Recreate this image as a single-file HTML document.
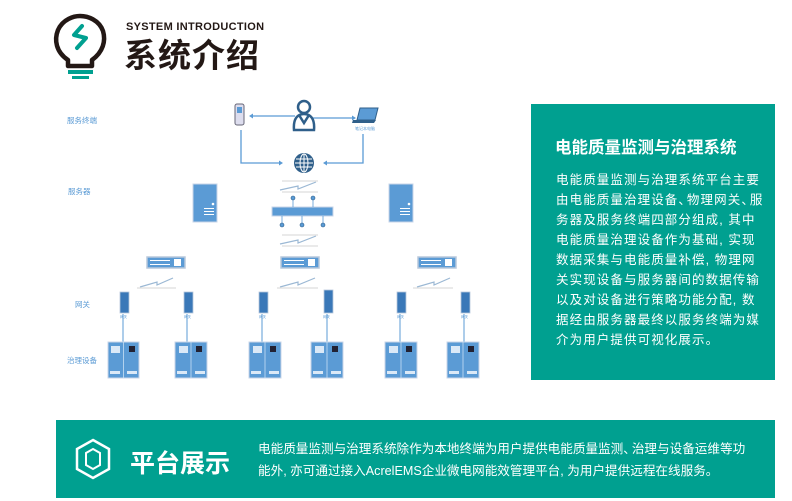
<!DOCTYPE html>
<html><head><meta charset="utf-8"><style>
body{margin:0;width:792px;height:501px;background:#fff;position:relative;overflow:hidden;font-family:"Liberation Sans","Noto Sans CJK SC",sans-serif}
.abs{position:absolute}
.p{letter-spacing:-4px}
</style></head><body>
<svg class="abs" style="left:0;top:0" width="792" height="501">
<g fill="none" stroke="#231815" stroke-width="4.5">
<path d="M68 60 C56 52 54 40 58 30 C63 19 74 16 80 16 C88 16 99 20 103 31 C106 41 103 52 92 60 L92 66 L68 66 Z" stroke-linejoin="round"/>
</g>
<path d="M82 26 L74 35 L86 38 L77 48" fill="none" stroke="#00a090" stroke-width="4" stroke-linecap="round" stroke-linejoin="round"/>
<rect x="68" y="70" width="25" height="4" fill="#00a090"/>
<rect x="72" y="76" width="17" height="3" fill="#00a090"/>
<g font-size="7.5" fill="#5b9bd5">
<text x="67" y="123">服务终端</text>
<text x="68" y="194">服务器</text>
<text x="75" y="307">网关</text>
<text x="67" y="363">治理设备</text>
</g>
<g stroke="#5b9bd5" stroke-width="1.3" fill="none">
<path d="M295 116 L252 116"/><path d="M313 118 L353 118"/>
<path d="M241 130 V163 H280"/><path d="M363 134 V163 H326"/>
</g>
<g fill="#5b9bd5">
<path d="M249 116 l4 -2.5 v5z"/><path d="M356 118 l-4 -2.5 v5z"/>
<path d="M283 163 l-4 -2.5 v5z"/><path d="M323 163 l4 -2.5 v5z"/>
</g>
<rect x="235" y="104" width="9" height="21" rx="2" fill="#dde" stroke="#667" stroke-width="1"/>
<rect x="237" y="107" width="5" height="6" fill="#5b9bd5"/>
<g fill="none" stroke="#2f5f8a" stroke-width="2.5">
<circle cx="304" cy="107" r="6"/>
<path d="M294 130 C293 118 298 114 304 114 C310 114 315 118 314 130 Z"/>
<path d="M299 115 L304 123 L309 115"/>
</g>
<path d="M360 108 L378 108 L375 120 L357 120 Z" fill="#5b9bd5" stroke="#2f5f8a"/>
<path d="M353 120 L376 120 L374 123 L352 123 Z" fill="#2f5f8a"/>
<text x="355" y="130" font-size="4" fill="#5b9bd5">笔记本电脑</text>
<circle cx="304" cy="163" r="10" fill="#2f5f8a"/>
<g stroke="#fff" stroke-width="1" fill="none">
<ellipse cx="304" cy="163" rx="4" ry="9"/><path d="M304 154 V172 M295 163 H313 M296 159 H312 M296 167 H312"/>
</g>
<g stroke="#9bb8d4" stroke-width="1.2" fill="none">
<path d="M280 190 L298 186 L298 189 L316 182"/><path d="M282 192 L318 192 M282 181 L318 181" stroke="#ddd"/>
<path d="M280 244 L298 240 L298 243 L316 236"/><path d="M282 246 L318 246 M282 235 L318 235" stroke="#ddd"/>
<path d="M140 287 L157 282 L157 285 L173 278"/><path d="M137 288 L176 288" stroke="#ddd"/>
<path d="M280 287 L298 282 L298 285 L315 278"/><path d="M277 288 L318 288" stroke="#ddd"/>
<path d="M417 287 L434 282 L434 285 L450 278"/><path d="M413 288 L453 288" stroke="#ddd"/>
</g>
<g>
<rect x="193" y="184" width="24" height="38" fill="#5b9bd5" stroke="#c8d6e8"/>
<rect x="389" y="184" width="24" height="38" fill="#5b9bd5" stroke="#c8d6e8"/>
<g fill="#fff"><circle cx="213" cy="204" r="1.3"/><circle cx="409" cy="204" r="1.3"/>
<rect x="204" y="208" width="10" height="1"/><rect x="204" y="211" width="10" height="1"/><rect x="204" y="214" width="10" height="1"/>
<rect x="400" y="208" width="10" height="1"/><rect x="400" y="211" width="10" height="1"/><rect x="400" y="214" width="10" height="1"/></g>
</g>
<rect x="272" y="207" width="61" height="9" fill="#5b9bd5" stroke="#c8d6e8"/>
<g stroke="#5b9bd5" stroke-width="0.8"><path d="M293 198 V207 M313 198 V207 M282 216 V225 M302 216 V225 M323 216 V225"/></g>
<g fill="#5b9bd5" stroke="#2f5f8a" stroke-width="0.6"><circle cx="293" cy="198" r="2"/><circle cx="313" cy="198" r="2"/><circle cx="282" cy="225" r="2"/><circle cx="302" cy="225" r="2"/><circle cx="323" cy="225" r="2"/></g>
<g>
<rect x="147" y="257" width="38" height="11" fill="#5b9bd5" stroke="#b8c8dc" stroke-width="1.5"/>
<rect x="281" y="257" width="38" height="11" fill="#5b9bd5" stroke="#b8c8dc" stroke-width="1.5"/>
<rect x="418" y="257" width="38" height="11" fill="#5b9bd5" stroke="#b8c8dc" stroke-width="1.5"/>
<g fill="#fff"><rect x="150" y="260" width="20" height="1"/><rect x="150" y="264" width="20" height="1"/><rect x="174" y="259" width="7" height="7"/>
<rect x="284" y="260" width="20" height="1"/><rect x="284" y="264" width="20" height="1"/><rect x="308" y="259" width="7" height="7"/>
<rect x="421" y="260" width="20" height="1"/><rect x="421" y="264" width="20" height="1"/><rect x="445" y="259" width="7" height="7"/></g>
</g>
<g stroke="#5b9bd5" stroke-width="1">
<path d="M123 314 V342 M187 314 V342 M262 314 V342 M327 314 V342 M400 314 V342 M464 314 V342"/>
</g>
<g fill="#3a78b8" stroke="#b8c8dc" stroke-width="0.8">
<rect x="120" y="292" width="9" height="21"/><rect x="184" y="292" width="9" height="21"/><rect x="259" y="292" width="9" height="21"/>
<rect x="324" y="290" width="9" height="23"/><rect x="397" y="292" width="9" height="21"/><rect x="461" y="292" width="9" height="21"/>
</g>
<g font-size="3.5" fill="#5b9bd5">
<text x="120" y="318">网关</text><text x="184" y="318">网关</text><text x="259" y="318">网关</text><text x="323" y="318">网关</text><text x="397" y="318">网关</text><text x="461" y="318">网关</text>
</g>
<g fill="#5b9bd5" stroke="#c8d6e8" stroke-width="1">
<rect x="108" y="342" width="31" height="36"/><rect x="175" y="342" width="32" height="36"/><rect x="249" y="342" width="32" height="36"/>
<rect x="311" y="342" width="32" height="36"/><rect x="385" y="342" width="32" height="36"/><rect x="447" y="342" width="32" height="36"/>
</g>
<g stroke="#c8e0f4" stroke-width="0.8">
<path d="M123.5 342 V378 M191 342 V378 M265 342 V378 M327 342 V378 M401 342 V378 M463 342 V378"/>
</g>
<g fill="#223">
<rect x="129" y="346" width="6" height="6"/><rect x="196" y="346" width="6" height="6"/><rect x="270" y="346" width="6" height="6"/>
<rect x="332" y="346" width="6" height="6"/><rect x="406" y="346" width="6" height="6"/><rect x="468" y="346" width="6" height="6"/>
</g>
<g fill="#dbe9f7">
<rect x="111" y="346" width="9" height="7"/><rect x="179" y="346" width="9" height="7"/><rect x="253" y="346" width="9" height="7"/>
<rect x="315" y="346" width="9" height="7"/><rect x="389" y="346" width="9" height="7"/><rect x="451" y="346" width="9" height="7"/>
<rect x="110" y="371" width="10" height="3"/><rect x="127" y="371" width="10" height="3"/>
<rect x="177" y="371" width="10" height="3"/><rect x="195" y="371" width="10" height="3"/>
<rect x="251" y="371" width="10" height="3"/><rect x="269" y="371" width="10" height="3"/>
<rect x="313" y="371" width="10" height="3"/><rect x="331" y="371" width="10" height="3"/>
<rect x="387" y="371" width="10" height="3"/><rect x="405" y="371" width="10" height="3"/>
<rect x="449" y="371" width="10" height="3"/><rect x="467" y="371" width="10" height="3"/>
</g>
<rect x="56" y="420" width="719" height="78" fill="#00a090"/>
<path d="M93 440 L109 449 L109 469 L93 478 L77 469 L77 449 Z" fill="none" stroke="#fff" stroke-width="2.5"/>
<path d="M93 449 L100 453 L100 465 L93 469 L86 465 L86 453 Z" fill="none" stroke="#fff" stroke-width="2"/>
<rect x="531" y="104" width="244" height="276" fill="#00a090"/>
</svg>
<div class="abs" style="left:126px;top:21px;font-size:11px;font-weight:bold;color:#231815;letter-spacing:0.3px">SYSTEM INTRODUCTION</div>
<div class="abs" style="left:124px;top:36px;font-size:33px;font-weight:bold;color:#231815;line-height:40px;letter-spacing:1px">系统介绍</div>
<div class="abs" style="left:555px;top:134px;font-size:16.5px;font-weight:bold;color:#fff">电能质量监测与治理系统</div>
<div class="abs" style="left:556px;top:170px;font-size:12.5px;line-height:20px;color:#fff;white-space:nowrap;letter-spacing:1.1px">电能质量监测与治理系统平台主要<br>由电能质量治理设备<span class="p">、</span>物理网关<span class="p">、</span>服<br>务器及服务终端四部分组成, 其中<br>电能质量治理设备作为基础, 实现<br>数据采集与电能质量补偿, 物理网<br>关实现设备与服务器间的数据传输<br>以及对设备进行策略功能分配, 数<br>据经由服务器最终以服务终端为媒<br>介为用户提供可视化展示。</div>
<div class="abs" style="left:130px;top:444px;font-size:25px;font-weight:bold;color:#fff">平台展示</div>
<div class="abs" style="left:258px;top:438px;font-size:12.6px;line-height:22px;color:#fff;white-space:nowrap">电能质量监测与治理系统除作为本地终端为用户提供电能质量监测<span class="p">、</span>治理与设备运维等功<br>能外, 亦可通过接入AcrelEMS企业微电网能效管理平台, 为用户提供远程在线服务。</div>
</body></html>
